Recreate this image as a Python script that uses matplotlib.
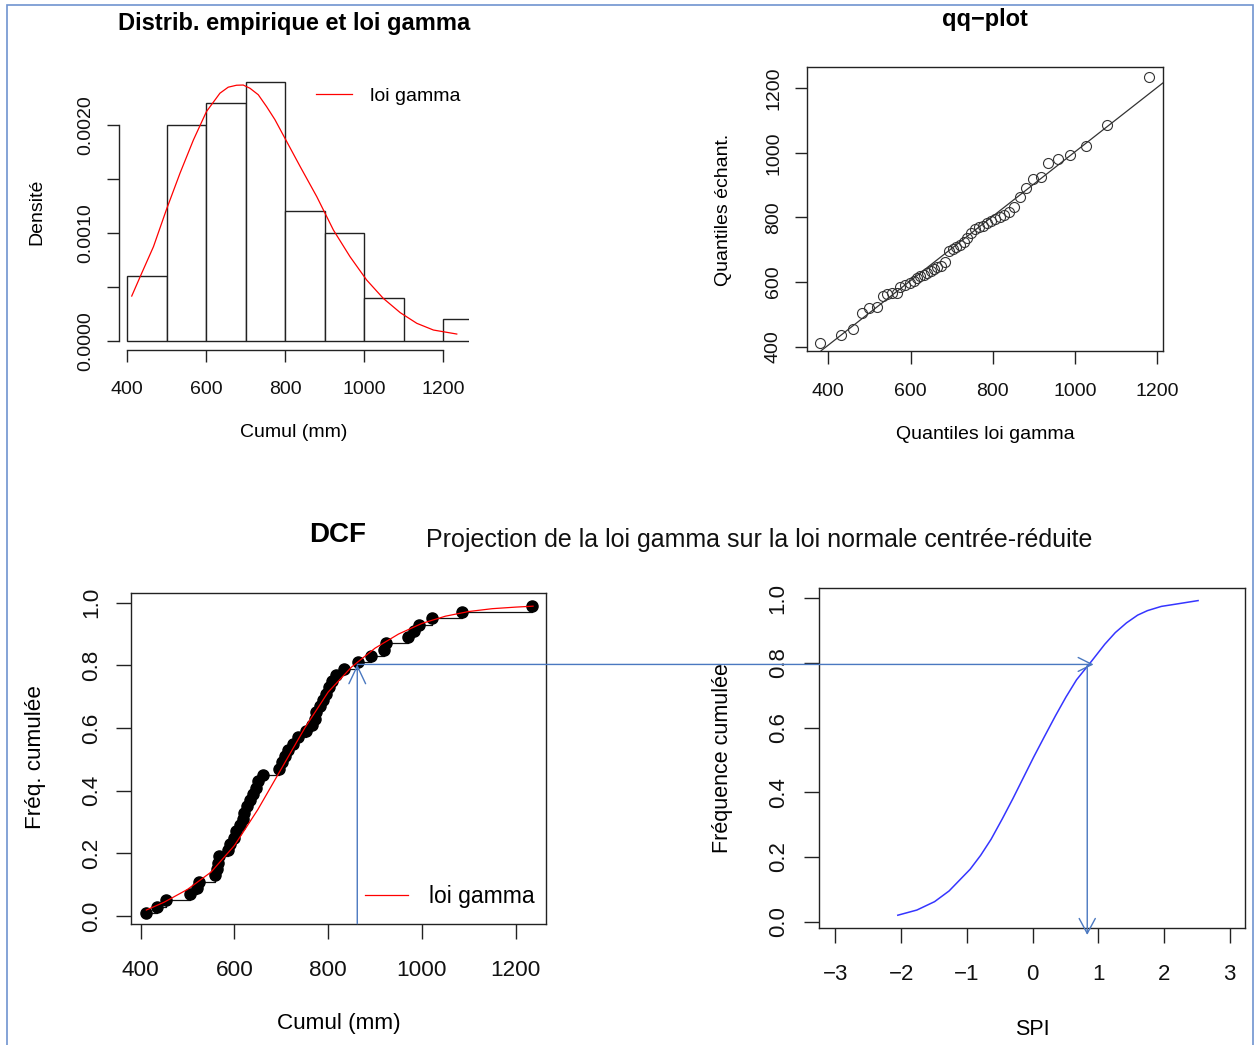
import numpy as np
import matplotlib
matplotlib.use("Agg")
import matplotlib.pyplot as plt
from matplotlib.patches import ConnectionPatch, Rectangle
from matplotlib.lines import Line2D
from matplotlib.ticker import FormatStrFormatter
from matplotlib.transforms import blended_transform_factory

plt.rcParams['font.family'] = ['Liberation Sans', 'DejaVu Sans']

W, H, DPI = 1257, 1045, 100
INK = "#222222"
ARROW = "#4a78c0"

# sorted annual totals (mm)
cumul = [412, 435, 454, 505, 520, 524, 558, 563, 565, 567,
         586, 591, 598, 604, 612, 619, 621, 627, 633, 639,
         646, 650, 661, 695, 701, 708, 714, 725, 735, 753,
         765, 772, 775, 782, 788, 795, 802, 809, 816, 833,
         864, 892, 918, 924, 970, 982, 993, 1022, 1085, 1234]
# gamma quantiles (x of the qq-plot)
qq_theo = [380, 430, 461, 481, 499, 518, 534, 543, 554, 566,
           574, 586, 599, 608, 616, 624, 633, 641, 649, 657,
           665, 674, 684, 693, 702, 711, 720, 729, 738, 748,
           757, 766, 776, 786, 796, 806, 817, 828, 839, 852,
           866, 881, 897, 916, 935, 959, 988, 1026, 1078, 1180]
qq_line = [(380, 385), (1210, 1213)]

hist_breaks = [400, 500, 600, 700, 800, 900, 1000, 1100, 1200, 1300]

# fitted gamma density
gamma_x = [412, 437, 467, 500, 534, 568, 601, 635, 656, 677, 694, 711, 732, 753,
           774, 795, 838, 880, 922, 964, 1006, 1048, 1091, 1133, 1175, 1234]
gamma_dens = [0.000414, 0.000624, 0.000872, 0.001218, 0.001552, 0.001861,
              0.002124, 0.002294, 0.00235, 0.002368, 0.00237, 0.00234, 0.00228,
              0.00217, 0.00205, 0.001907, 0.001614, 0.001335, 0.001026, 0.000779,
              0.000563, 0.000393, 0.00026, 0.000161, 0.0000989, 0.0000618]

# fitted gamma cdf
cdf_x = [412, 450, 500, 550, 600, 650, 700, 750, 800, 850, 900,
         950, 1000, 1050, 1100, 1150, 1200, 1237]
cdf_y = [0.019, 0.044, 0.085, 0.140, 0.225, 0.34, 0.47, 0.60, 0.715,
         0.795, 0.855, 0.900, 0.934, 0.957, 0.972, 0.981, 0.986, 0.989]

# projection on the standard normal
spi_x = [-2.05, -1.76, -1.49, -1.27, -0.95, -0.79, -0.63, -0.46, -0.30, -0.14, 0.02,
         0.18, 0.35, 0.51, 0.67, 0.90, 1.10, 1.26, 1.43, 1.60, 1.75, 1.96, 2.18, 2.52]
spi_freq = [0.020, 0.036, 0.062, 0.095, 0.162, 0.205, 0.255, 0.318, 0.38, 0.445, 0.51,
            0.572, 0.637, 0.695, 0.748, 0.806, 0.858, 0.894, 0.924, 0.948, 0.962,
            0.975, 0.982, 0.993]

# example read through the arrows
proj_cumul = 862
proj_freq = 0.803
proj_spi = 0.833
h_arrow_end = 0.93


def px_axes(fig, left, top, right, bottom):
    return fig.add_axes([left / W, 1 - bottom / H, (right - left) / W, (bottom - top) / H])


def r_style(ax, fs, tlen, ypad, xpad):
    ax.tick_params(direction='out', length=tlen, width=1.0, color=INK,
                   labelsize=fs, labelcolor='#111111')
    ax.tick_params(axis='y', labelrotation=90, pad=ypad)
    ax.tick_params(axis='x', pad=xpad)
    for lab in ax.get_yticklabels():
        lab.set_verticalalignment('center')
    for s in ax.spines.values():
        s.set_linewidth(1.0)
        s.set_color(INK)


fig = plt.figure(figsize=(W / DPI, H / DPI), dpi=DPI)

# ---- histogram + gamma density
ax1 = px_axes(fig, 119, 71, 469.3, 350)
ax1.hist(cumul, bins=hist_breaks, density=True, facecolor='white',
         edgecolor=INK, linewidth=1.0)
ax1.plot(gamma_x, gamma_dens, color='red', lw=0.9)
ax1.set_xlim(379.8, 1265.7)
ax1.set_ylim(-0.0000862, 0.0025)
ax1.set_xticks([400, 600, 800, 1000, 1200])
ax1.set_yticks([0, 0.0005, 0.001, 0.0015, 0.002])
ax1.set_yticklabels(['0.0000', '', '0.0010', '', '0.0020'])
r_style(ax1, 14, 8.6, 9, 13.6)
ax1.spines['top'].set_visible(False)
ax1.spines['right'].set_visible(False)
ax1.spines['left'].set_bounds(0, 0.002)
ax1.spines['bottom'].set_bounds(400, 1200)
ax1.text(0.501, 1.172, "Distrib. empirique et loi gamma", transform=ax1.transAxes,
         ha='center', va='center', fontsize=17, fontweight='bold')
ax1.set_xlabel("Cumul (mm)", fontsize=14)
ax1.xaxis.set_label_coords(0.50, -0.297)
ax1.set_ylabel("Densité", fontsize=14)
ax1.yaxis.set_label_coords(-0.234, 0.495)
ax1.xaxis.label.set_va('center')
ax1.yaxis.label.set_va('center')
ax1.legend([Line2D([], [], color='red', lw=0.9)], ["loi gamma"], frameon=False,
           loc='center left', bbox_to_anchor=(0.562, 0.911), borderpad=0,
           borderaxespad=0, handlelength=1.85, handletextpad=0.92, fontsize=14)

# ---- qq-plot
ax2 = px_axes(fig, 807, 67.3, 1162.7, 350.7)
ax2.plot(qq_theo, cumul, 'o', mfc='none', mec='#333333', ms=7.2, mew=0.8)
ax2.axline(qq_line[0], qq_line[1], color='#333333', lw=0.9)
ax2.set_xlim(348.2, 1213.1)
ax2.set_ylim(387.6, 1265)
ax2.set_xticks([400, 600, 800, 1000, 1200])
ax2.set_yticks([400, 600, 800, 1000, 1200])
r_style(ax2, 14, 9, 9, 14)
ax2.text(0.5004, 1.169, "qq\u2212plot", transform=ax2.transAxes,
         ha='center', va='center', fontsize=17, fontweight='bold')
ax2.set_xlabel("Quantiles loi gamma", fontsize=14)
ax2.xaxis.set_label_coords(0.50, -0.297)
ax2.set_ylabel("Quantiles échant.", fontsize=14)
ax2.yaxis.set_label_coords(-0.236, 0.496)
ax2.xaxis.label.set_va('center')
ax2.yaxis.label.set_va('center')

# ---- DCF
n = len(cumul)
pp = (np.arange(n) + 0.5) / n
ax3 = px_axes(fig, 130.7, 592.7, 546, 923.7)
ax3.step(cumul, pp, where='post', color='#111111', lw=0.9)
ax3.plot(cumul, pp, 'o', color='black', ms=8)
ax3.plot(cdf_x, cdf_y, color='red', lw=0.9)
ax3.set_xlim(378.7, 1264.6)
ax3.set_ylim(-0.0246, 1.032)
ax3.set_xticks([400, 600, 800, 1000, 1200])
ax3.set_yticks([0, 0.2, 0.4, 0.6, 0.8, 1.0])
ax3.yaxis.set_major_formatter(FormatStrFormatter('%.1f'))
r_style(ax3, 16.2, 10.8, 10, 15)
ax3.text(0.499, 1.174, "DCF", transform=ax3.transAxes,
         ha='center', va='center', fontsize=20, fontweight='bold')
ax3.set_xlabel("Cumul (mm)", fontsize=16.2)
ax3.xaxis.set_label_coords(0.50, -0.300)
ax3.set_ylabel("Fréq. cumulée", fontsize=16.2)
ax3.yaxis.set_label_coords(-0.230, 0.504)
ax3.xaxis.label.set_va('center')
ax3.yaxis.label.set_va('center')
ax3.legend([Line2D([], [], color='red', lw=0.9)], ["loi gamma"], frameon=False,
           loc='center left', bbox_to_anchor=(0.564, 0.081), borderpad=0,
           borderaxespad=0, handlelength=1.87, handletextpad=0.93, fontsize=16.5)

# ---- SPI
ax4 = px_axes(fig, 819.3, 588.3, 1244.6, 927.7)
ax4.plot(spi_x, spi_freq, color='#3535ff', lw=1.1)
ax4.set_xlim(-3.245, 3.228)
ax4.set_ylim(-0.0186, 1.031)
ax4.set_xticks([-3, -2, -1, 0, 1, 2, 3])
ax4.set_yticks([0, 0.2, 0.4, 0.6, 0.8, 1.0])
ax4.yaxis.set_major_formatter(FormatStrFormatter('%.1f'))
r_style(ax4, 16, 11, 11, 15)
ax4.set_xlabel("SPI", fontsize=15.5)
ax4.xaxis.set_label_coords(0.50, -0.301)
ax4.set_ylabel("Fréquence cumulée", fontsize=15.5)
ax4.yaxis.set_label_coords(-0.228, 0.4985)
ax4.xaxis.label.set_va('center')
ax4.yaxis.label.set_va('center')

fig.text(426 / W, 1 - 540 / H, "Projection de la loi gamma sur la loi normale centrée-réduite",
         ha='left', va='center', fontsize=18, color='#111111')

# ---- arrows linking the DCF to the SPI
mix = blended_transform_factory(ax4.transData, ax3.transData)
arrows = [
    ((proj_cumul, ax3.get_ylim()[0]), ax3.transData, (proj_cumul, proj_freq), ax3.transData, 1.27, 0.6),
    ((proj_cumul, proj_freq), ax3.transData, (h_arrow_end, proj_freq), mix, 1.0, 0.5),
    ((proj_spi, proj_freq), mix, (proj_spi, -0.041), ax4.transData, 1.08, 0.58),
]
for xa, ca, xb, cb, hl, hw in arrows:
    con = ConnectionPatch(xyA=xa, coordsA=ca, xyB=xb, coordsB=cb,
                          arrowstyle=f"->,head_length={hl},head_width={hw}",
                          color=ARROW, lw=1.0, mutation_scale=10,
                          shrinkA=0, shrinkB=0, zorder=10)
    fig.add_artist(con)

# frame of the original document
fig.add_artist(Rectangle((6.7 / W, -0.01), (1253 - 6.7) / W, 1.01 - 5 / H,
                         transform=fig.transFigure, fill=False,
                         edgecolor='#7094cf', lw=1.2))

fig.savefig("out.png", dpi=DPI)
